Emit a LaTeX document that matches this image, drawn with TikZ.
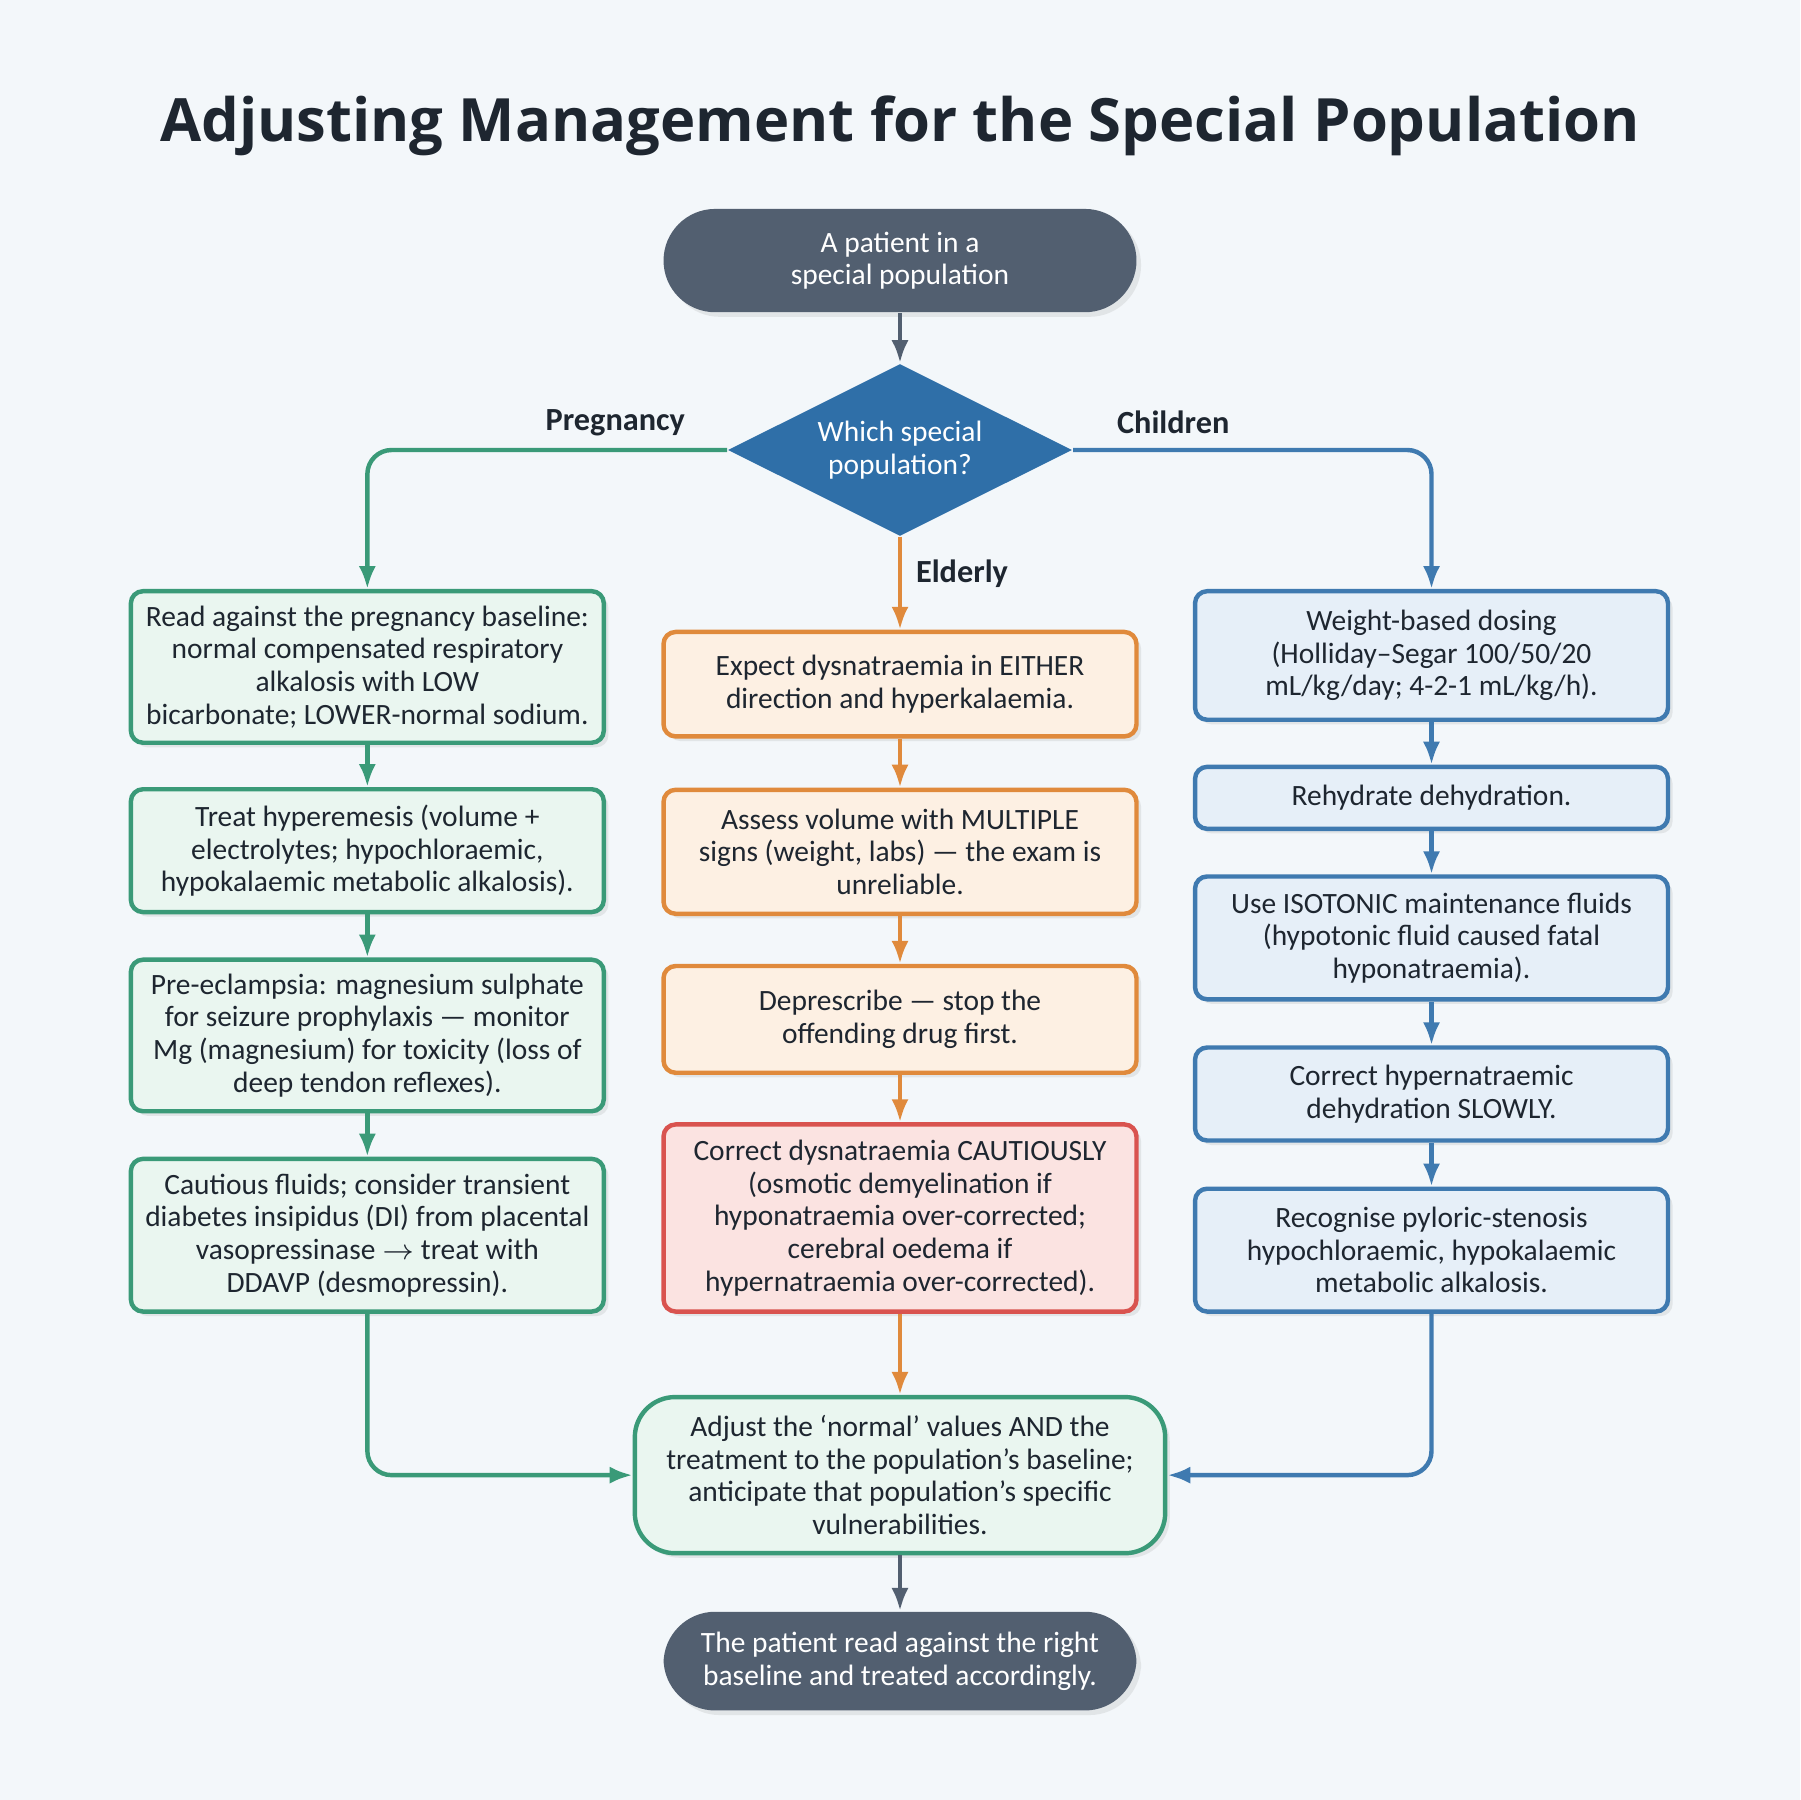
\documentclass[tikz,border=0pt]{standalone}
\usepackage{fontspec}
\setmainfont{Carlito}
\newfontfamily\titlefont{Open Sans}
\usetikzlibrary{shapes.geometric,arrows.meta,shadows}
\definecolor{bgc}{HTML}{F3F7FA}
\definecolor{slate}{HTML}{525F70}
\definecolor{dia}{HTML}{2F6FA8}
\definecolor{gline}{HTML}{3A9A78}\definecolor{gfill}{HTML}{EAF6F0}
\definecolor{oline}{HTML}{E08A3C}\definecolor{ofill}{HTML}{FDF0E3}
\definecolor{bline}{HTML}{3F7AB0}\definecolor{bfill}{HTML}{E6EFF8}
\definecolor{rline}{HTML}{D9534F}\definecolor{rfill}{HTML}{FBE3E1}
\definecolor{ink}{HTML}{1E2630}
\tikzset{
  box/.style={draw, line width=1.1pt, rounded corners=3pt, minimum width=4.12cm, align=center,
    font=\fontsize{7.3}{8.1}\selectfont, text=ink, inner sep=2pt,
    drop shadow={opacity=0.15, shadow xshift=0.4mm, shadow yshift=-0.4mm}},
  gbox/.style={box, draw=gline, fill=gfill},
  obox/.style={box, draw=oline, fill=ofill},
  bbox/.style={box, draw=bline, fill=bfill},
  rbox/.style={box, draw=rline, fill=rfill},
  pill/.style={draw=none, fill=slate, rounded corners=0.45cm, minimum width=4.12cm, align=center,
    text=white, font=\fontsize{7.3}{8.1}\selectfont,
    drop shadow={opacity=0.15, shadow xshift=0.4mm, shadow yshift=-0.4mm}},
  arr/.style={-{Latex[length=2mm]}, line width=1.1pt, rounded corners=6pt},
  lbl/.style={font=\fontsize{8}{9}\selectfont\bfseries, text=ink}
}
\begin{document}
\begin{tikzpicture}
\useasboundingbox[fill=bgc] (0,0) rectangle (15.68,-15.68);
\node[font=\titlefont\fontsize{14.8}{16}\selectfont\bfseries, text=ink] (title) at (7.84,-1.1) {Adjusting Management for the Special Population};

\node[pill, minimum height=0.9cm] (start) at (7.84,-2.27) {A patient in a\\special population};
\node[diamond, fill=dia, text=white, minimum width=3.0cm, minimum height=1.5cm, inner sep=0pt, aspect=2,
  align=center, font=\fontsize{7.3}{8.1}\selectfont] (which) at (7.84,-3.92) {Which special\\population?};

% pregnancy column
\node[gbox, minimum height=1.32cm] (preg1) at (3.2,-5.81) {Read against the pregnancy baseline:\\normal compensated respiratory\\alkalosis with LOW\\bicarbonate; LOWER-normal sodium.};
\node[gbox, minimum height=1.07cm] (preg2) at (3.2,-7.41) {Treat hyperemesis (volume +\\electrolytes; hypochloraemic,\\hypokalaemic metabolic alkalosis).};
\node[gbox, minimum height=1.32cm] (preg3) at (3.2,-9.02) {Pre-eclampsia: magnesium sulphate\\for seizure prophylaxis --- monitor\\Mg (magnesium) for toxicity (loss of\\deep tendon reflexes).};
\node[gbox, minimum height=1.33cm] (preg4) at (3.2,-10.76) {Cautious fluids; consider transient\\diabetes insipidus (DI) from placental\\vasopressinase $\rightarrow$ treat with\\DDAVP (desmopressin).};

% elderly column
\node[obox, minimum height=0.91cm] (eld1) at (7.84,-5.96) {Expect dysnatraemia in EITHER\\direction and hyperkalaemia.};
\node[obox, minimum height=1.08cm] (eld2) at (7.84,-7.42) {Assess volume with MULTIPLE\\signs (weight, labs) --- the exam is\\unreliable.};
\node[obox, minimum height=0.93cm] (eld3) at (7.84,-8.88) {Deprescribe --- stop the\\offending drug first.};
\node[rbox, minimum height=1.63cm] (eld4) at (7.84,-10.61) {Correct dysnatraemia CAUTIOUSLY\\(osmotic demyelination if\\hyponatraemia over-corrected;\\cerebral oedema if\\hypernatraemia over-corrected).};

% children column
\node[bbox, minimum height=1.12cm] (chi1) at (12.47,-5.71) {Weight-based dosing\\(Holliday--Segar 100/50/20\\mL/kg/day; 4-2-1 mL/kg/h).};
\node[bbox, minimum height=0.54cm] (chi2) at (12.47,-6.95) {Rehydrate dehydration.};
\node[bbox, minimum height=1.07cm] (chi3) at (12.47,-8.17) {Use ISOTONIC maintenance fluids\\(hypotonic fluid caused fatal\\hyponatraemia).};
\node[bbox, minimum height=0.81cm] (chi4) at (12.47,-9.53) {Correct hypernatraemic\\dehydration SLOWLY.};
\node[bbox, minimum height=1.07cm] (chi5) at (12.47,-10.89) {Recognise pyloric-stenosis\\hypochloraemic, hypokalaemic\\metabolic alkalosis.};

\node[box, draw=gline, fill=gfill, rounded corners=0.35cm, minimum width=4.62cm, minimum height=1.36cm] (adjust) at (7.84,-12.85)
  {Adjust the `normal' values AND the\\treatment to the population's baseline;\\anticipate that population's specific\\vulnerabilities.};
\node[pill, minimum height=0.86cm] (result) at (7.84,-14.47) {The patient read against the right\\baseline and treated accordingly.};

% connectors
\draw[arr, draw=slate] (start) -- (which);
\draw[arr, draw=gline] (which.west) -| (preg1.north);
\draw[arr, draw=bline] (which.east) -| (chi1.north);
\draw[arr, draw=oline] (which.south) -- (eld1.north);
\node[lbl] (lpreg) at (5.36,-3.68) {Pregnancy};
\node[lbl] (lchi) at (10.22,-3.68) {Children};
\node[lbl] (leld) at (8.38,-5.0) {Elderly};
\foreach \a/\b in {preg1/preg2,preg2/preg3,preg3/preg4} \draw[arr, draw=gline] (\a) -- (\b);
\foreach \a/\b in {eld1/eld2,eld2/eld3,eld3/eld4} \draw[arr, draw=oline] (\a) -- (\b);
\foreach \a/\b in {chi1/chi2,chi2/chi3,chi3/chi4,chi4/chi5} \draw[arr, draw=bline] (\a) -- (\b);
\draw[arr, draw=gline] (preg4.south) |- (adjust.west);
\draw[arr, draw=bline] (chi5.south) |- (adjust.east);
\draw[arr, draw=oline] (eld4) -- (adjust);
\draw[arr, draw=slate] (adjust) -- (result);
\end{tikzpicture}
\end{document}
